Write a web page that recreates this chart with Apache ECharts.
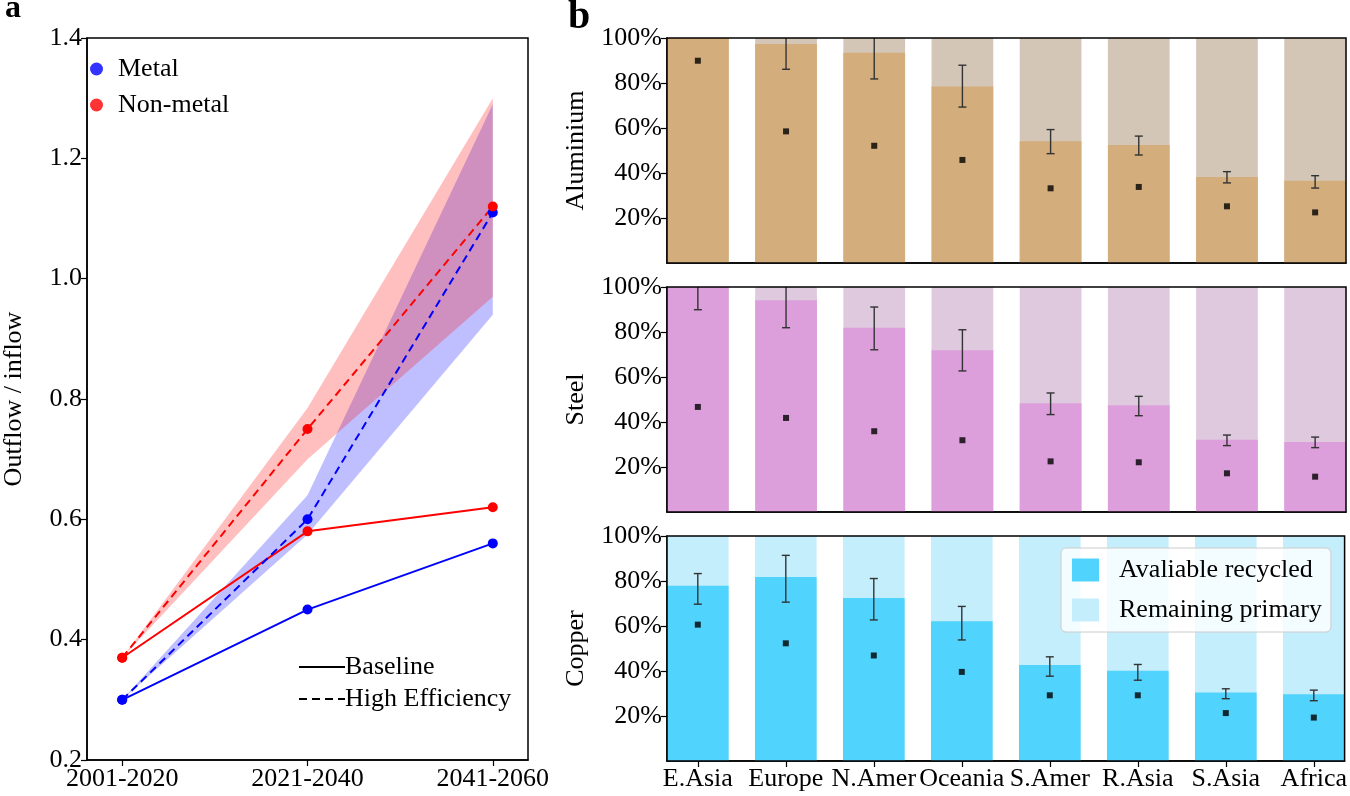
<!DOCTYPE html>
<html><head><meta charset="utf-8">
<script src="https://cdn.jsdelivr.net/npm/echarts@6/dist/echarts.min.js"></script>
<style>html,body{margin:0;padding:0;background:#fff}#c{width:1350px;height:796px}</style>
</head><body><div id="c"></div><script>
// ---------- Panel a data ----------
const periods = ['2001-2020', '2021-2040', '2041-2060'];
const metalBaseline = [0.30, 0.45, 0.56];
const nonMetalBaseline = [0.37, 0.58, 0.62];
const metalHigh = [0.30, 0.60, 1.11];
const nonMetalHigh = [0.37, 0.75, 1.12];
const metalHighLow = [0.30, 0.575, 0.94];
const metalHighUp = [0.30, 0.64, 1.29];
const nonMetalHighLow = [0.37, 0.70, 0.97];
const nonMetalHighUp = [0.37, 0.785, 1.30];

// ---------- Panel b data (%) ----------
const regions = ['E.Asia', 'Europe', 'N.Amer', 'Oceania', 'S.Amer', 'R.Asia', 'S.Asia', 'Africa'];
const shareTicks = [20, 40, 60, 80, 100];
const shareTotal = [100, 100, 100, 100, 100, 100, 100, 100];
const alRecycled = [100, 97.3, 93.5, 78.4, 54.1, 52.4, 38.2, 36.6];
const alErrLow = [null, 86.1, 81.8, 69.3, 48.6, 48.0, 35.6, 33.3];
const alErrHigh = [null, 108, 106, 87.9, 59.3, 56.4, 40.6, 38.8];
const alPoint = [89.9, 58.5, 52.1, 45.8, 33.2, 33.8, 25.2, 22.5];

const stRecycled = [100, 94.1, 81.9, 71.9, 48.3, 47.4, 32.1, 31.1];
const stErrLow = [89.9, 81.9, 72.1, 62.7, 43.3, 42.8, 29.5, 28.6];
const stErrHigh = [110, 106, 91.1, 81.0, 52.9, 51.4, 34.2, 33.3];
const stPoint = [46.7, 41.8, 35.9, 31.9, 22.5, 22.1, 17.2, 15.7];

const cuRecycled = [77.9, 81.8, 72.5, 62.1, 42.7, 40.1, 30.5, 29.7];
const cuErrLow = [69.7, 70.6, 62.7, 53.8, 37.7, 35.9, 27.7, 26.8];
const cuErrHigh = [83.3, 91.4, 81.1, 68.7, 46.3, 42.9, 32.1, 31.5];
const cuPoint = [60.6, 52.3, 46.9, 39.6, 29.2, 29.2, 21.3, 19.3];

const FONT = 'Liberation Serif';
const FS = 26;

function pairs(arr) { return arr.map((v, i) => [i, v]); }

function bandSeries(low, up, color) {
  return {
    type: 'custom', xAxisIndex: 0, yAxisIndex: 0, z: 1, silent: true, clip: false,
    data: low.map((v, i) => [i, v, up[i]]),
    encode: { x: 0, y: [1, 2] },
    renderItem: function (params, api) {
      if (params.dataIndexInside !== 0) return;
      const n = params.dataInsideLength;
      const upper = [], lower = [];
      for (let k = 0; k < n; k++) {
        const x = api.value(0, k);
        upper.push(api.coord([x, api.value(2, k)]));
        lower.push(api.coord([x, api.value(1, k)]));
      }
      return { type: 'polygon', shape: { points: upper.concat(lower.reverse()) }, style: { fill: color } };
    }
  };
}

function lineSeries(name, vals, color, dashed) {
  return {
    name: name, type: 'line', xAxisIndex: 0, yAxisIndex: 0, z: 3,
    data: pairs(vals), symbol: 'circle', symbolSize: 10,
    itemStyle: { color: color }, lineStyle: { color: color, width: 2, type: dashed ? [8, 5] : 'solid' },
    silent: true
  };
}

function errRender(params, api) {
  const lo = api.value(1), hi = api.value(2);
  if (isNaN(lo) || isNaN(hi)) return;
  const x = api.value(0);
  const p1 = api.coord([x, lo]), p2 = api.coord([x, hi]);
  const cap = 4;
  const st = { stroke: '#333', lineWidth: 1.4 };
  return {
    type: 'group', children: [
      { type: 'line', shape: { x1: p1[0], y1: p1[1], x2: p2[0], y2: p2[1] }, style: st },
      { type: 'line', shape: { x1: p1[0] - cap, y1: p1[1], x2: p1[0] + cap, y2: p1[1] }, style: st },
      { type: 'line', shape: { x1: p2[0] - cap, y1: p2[1], x2: p2[0] + cap, y2: p2[1] }, style: st }
    ]
  };
}

function panelSeries(idx, names, recycled, lo, hi, pts, colRec, colRem) {
  return [
    { name: names[1], type: 'bar', xAxisIndex: idx, yAxisIndex: idx, data: pairs(shareTotal),
      barWidth: '70%', barGap: '-100%', itemStyle: { color: colRem }, silent: true, z: 2 },
    { name: names[0], type: 'bar', xAxisIndex: idx, yAxisIndex: idx, data: pairs(recycled),
      barWidth: '70%', barGap: '-100%', itemStyle: { color: colRec }, silent: true, z: 2 },
    { type: 'custom', xAxisIndex: idx, yAxisIndex: idx, z: 4, clip: true, silent: true,
      data: lo.map((v, i) => [i, v, hi[i]]), encode: { x: 0, y: [1, 2] }, renderItem: errRender },
    { type: 'scatter', xAxisIndex: idx, yAxisIndex: idx, z: 5, silent: true,
      data: pairs(pts), symbol: 'rect', symbolSize: 6, itemStyle: { color: '#000' } }
  ];
}

const bLeft = 667, bWidth = 679, bHeight = 225;
const bTops = [38, 287, 536];

const grids = [{ left: 74, top: 38, width: 454, height: 722 }].concat(
  bTops.map(t => ({ left: bLeft, top: t, width: bWidth, height: bHeight }))
).map(g => Object.assign(g, { show: true, borderColor: '#000', borderWidth: 1.5, backgroundColor: 'transparent', z: 10 }));

const axisCommon = {
  axisLine: { show: true, onZero: false, lineStyle: { color: '#000', width: 1.5 } },
  axisTick: { show: true, length: 6, inside: false, lineStyle: { color: '#000', width: 1.2 } },
  splitLine: { show: false },
  axisLabel: { color: '#000', fontSize: FS, fontFamily: FONT }
};

const xAxes = [
  Object.assign({}, axisCommon, {
    type: 'value', gridIndex: 0, min: -0.19, max: 2.19,
    axisTick: Object.assign({}, axisCommon.axisTick, { customValues: [0, 1, 2] }),
    axisLabel: Object.assign({}, axisCommon.axisLabel, { customValues: [0, 1, 2], margin: 6, formatter: v => periods[Math.round(v)] })
  })
].concat([1, 2, 3].map(i => Object.assign({}, axisCommon, {
  type: 'value', gridIndex: i, min: -0.35, max: 7.35,
  axisTick: Object.assign({}, axisCommon.axisTick, { show: i === 3, customValues: [0, 1, 2, 3, 4, 5, 6, 7] }),
  axisLabel: Object.assign({}, axisCommon.axisLabel, { show: i === 3, customValues: [0, 1, 2, 3, 4, 5, 6, 7], margin: 5, formatter: v => regions[Math.round(v)] })
})));

const bNames = ['Aluminium', 'Steel', 'Copper'];
const yAxes = [
  Object.assign({}, axisCommon, {
    type: 'value', gridIndex: 0, min: 0.2, max: 1.4, interval: 0.2,
    name: 'Outflow / inflow', nameLocation: 'middle', nameGap: 60,
    nameTextStyle: { color: '#000', fontSize: FS, fontFamily: FONT },
    axisLabel: Object.assign({}, axisCommon.axisLabel, { margin: 5, formatter: v => v.toFixed(1) })
  })
].concat([1, 2, 3].map(i => Object.assign({}, axisCommon, {
  type: 'value', gridIndex: i, min: 0, max: 100, interval: 20,
  name: bNames[i - 1], nameLocation: 'middle', nameGap: 78,
  nameTextStyle: { color: '#000', fontSize: FS, fontFamily: FONT },
  axisTick: Object.assign({}, axisCommon.axisTick, { customValues: shareTicks }),
  axisLabel: Object.assign({}, axisCommon.axisLabel, { margin: 5, customValues: shareTicks, formatter: v => v + '%' })
})));

const series = [
  bandSeries(metalHighLow, metalHighUp, 'rgba(0,0,255,0.25)'),
  bandSeries(nonMetalHighLow, nonMetalHighUp, 'rgba(255,0,0,0.25)'),
  lineSeries('mb', metalBaseline, '#0000ff', false),
  lineSeries('nb', nonMetalBaseline, '#ff0000', false),
  lineSeries('mh', metalHigh, '#0000ff', true),
  lineSeries('nh', nonMetalHigh, '#ff0000', true),
  { name: 'Metal', type: 'scatter', xAxisIndex: 0, yAxisIndex: 0, data: [], itemStyle: { color: '#0000ff' } },
  { name: 'Non-metal', type: 'scatter', xAxisIndex: 0, yAxisIndex: 0, data: [], itemStyle: { color: '#ff0000' } },
  { name: 'Baseline', type: 'line', xAxisIndex: 0, yAxisIndex: 0, data: [], symbol: 'none', itemStyle: { color: '#000' }, lineStyle: { color: '#000', width: 2.5, type: 'solid' } },
  { name: 'High Efficiency', type: 'line', xAxisIndex: 0, yAxisIndex: 0, data: [], symbol: 'none', itemStyle: { color: '#000' }, lineStyle: { color: '#000', width: 2.5, type: [8, 5] } }
].concat(
  panelSeries(1, ['Al recycled', 'Al primary'], alRecycled, alErrLow, alErrHigh, alPoint, '#d3ad7b', '#d4c6b7'),
  panelSeries(2, ['St recycled', 'St primary'], stRecycled, stErrLow, stErrHigh, stPoint, '#dc9fdb', '#dec9de'),
  panelSeries(3, ['Avaliable recycled', 'Remaining primary'], cuRecycled, cuErrLow, cuErrHigh, cuPoint, '#50d3fc', '#c4eefc')
);

const legText = { color: '#000', fontSize: FS, fontFamily: FONT };
const option = {
  animation: false,
  textStyle: { fontFamily: FONT },
  title: [
    { text: 'a', left: 5, top: -7, padding: 0, textStyle: { fontSize: 32, fontWeight: 'bold', fontFamily: FONT, color: '#000' } },
    { text: 'b', left: 568, top: -2, padding: 0, textStyle: { fontSize: 40, fontWeight: 'bold', fontFamily: FONT, color: '#000' } }
  ],
  grid: grids,
  xAxis: xAxes,
  yAxis: yAxes,
  legend: [
    { data: ['Metal', 'Non-metal'], orient: 'vertical', left: 90, top: 56, icon: 'circle', itemWidth: 13, itemHeight: 13,
      itemGap: 10, padding: 0, selectedMode: false, textStyle: Object.assign({ padding: [0, 0, 0, 10] }, legText) },
    { data: ['Baseline', 'High Efficiency'], orient: 'vertical', left: 298, top: 654, itemWidth: 46, itemHeight: 14,
      itemGap: 6, padding: 0, selectedMode: false, itemStyle: { opacity: 0 },
      textStyle: Object.assign({ padding: [0, 0, 0, -5] }, legText) },
    { data: ['Avaliable recycled', 'Remaining primary'], orient: 'vertical', left: 1061, top: 548, icon: 'rect',
      itemWidth: 27, itemHeight: 23, itemGap: 14, padding: [9, 9, 9, 11], selectedMode: false,
      backgroundColor: 'rgba(255,255,255,0.8)', borderColor: '#cccccc', borderWidth: 1, borderRadius: 5,
      textStyle: Object.assign({ padding: [0, 0, 0, 15] }, legText) }
  ],
  series: series
};

const chart = echarts.init(document.getElementById('c'), null, { renderer: 'canvas' });
chart.setOption(option);
</script></body></html>
